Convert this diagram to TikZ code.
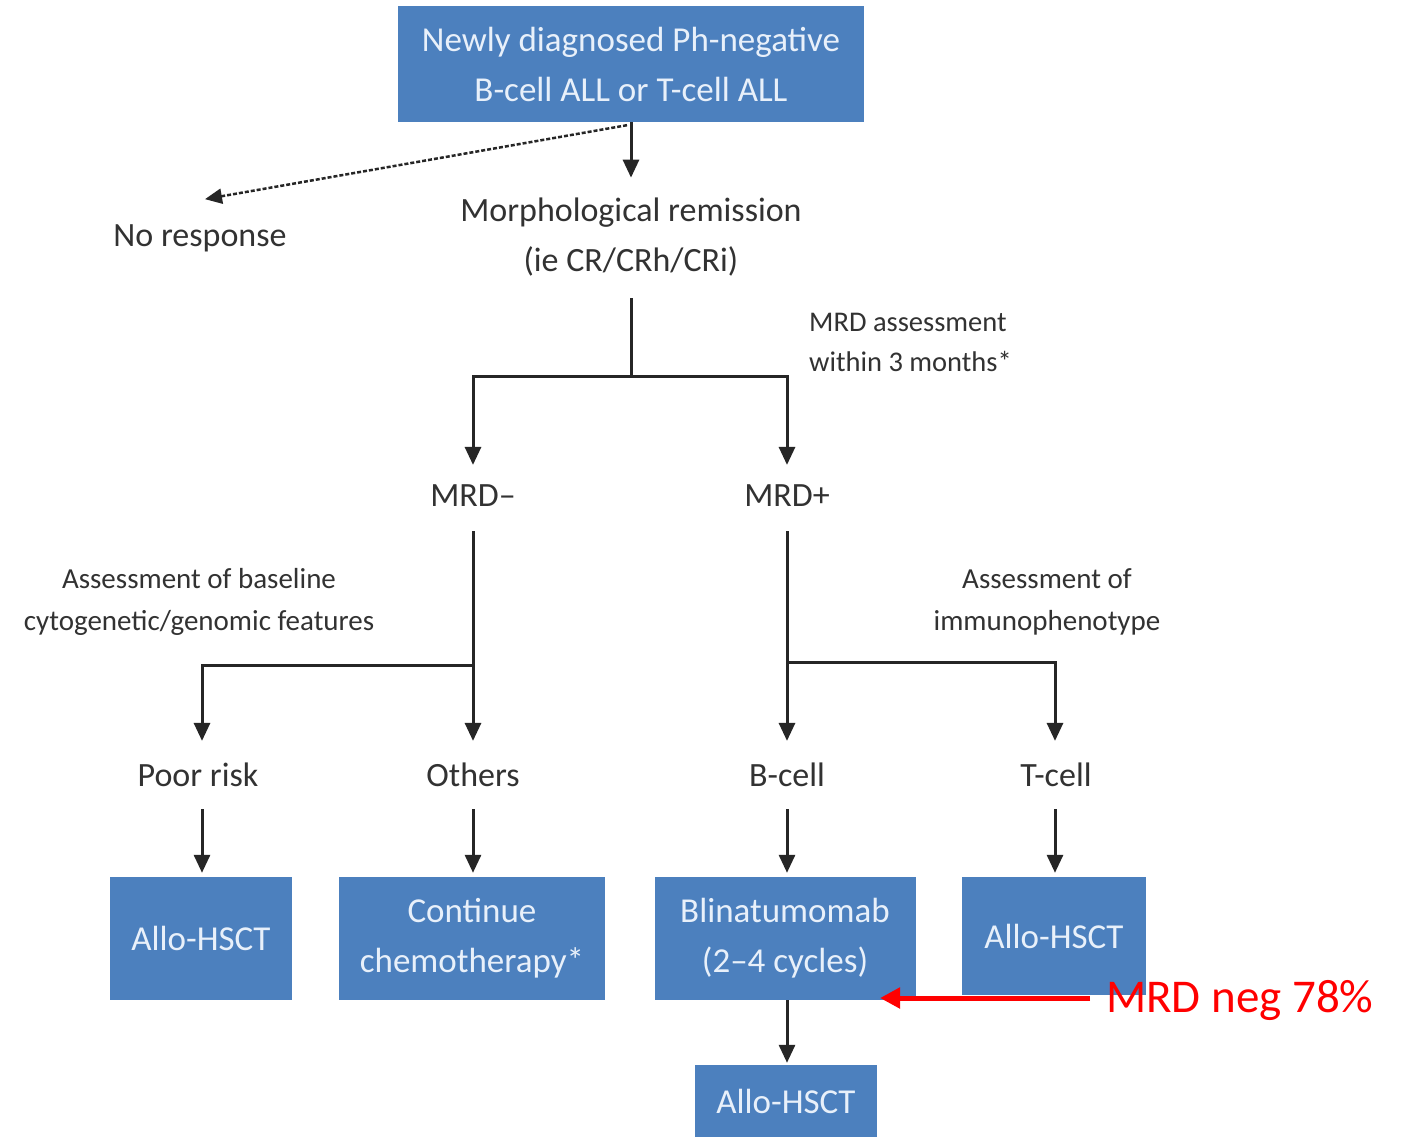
\documentclass[tikz,border=0pt]{standalone}
\usepackage{fontspec}
\setmainfont{Carlito}
\usetikzlibrary{arrows.meta,calc}
\definecolor{boxblue}{RGB}{76,128,190}
\definecolor{boxtext}{RGB}{232,240,250}
\definecolor{lblc}{RGB}{50,50,50}
\definecolor{redc}{RGB}{255,0,0}
\begin{document}
\begin{tikzpicture}[x=1pt,y=-1pt,
  bluebox/.style={fill=boxblue, text=boxtext, align=center, font=\fontsize{35}{50}\selectfont, inner sep=0pt},
  lbl/.style={text=lblc, align=center, font=\fontsize{34}{50}\selectfont, inner sep=0pt},
  small/.style={text=lblc, align=center, font=\fontsize{29}{42}\selectfont, inner sep=0pt},
  arr/.style={draw=black!85, line width=3pt, -{Triangle[width=16pt,length=18pt]}},
  ln/.style={draw=black!85, line width=3pt},
]
\useasboundingbox (0,0) rectangle (1401,1136);
\fill[white] (0,0) rectangle (1401,1136);

% boxes
\node[bluebox, minimum width=466pt, minimum height=116pt] (top) at (631,64) {Newly diagnosed Ph-negative\\B-cell ALL or T-cell ALL};
\node[bluebox, minimum width=182pt, minimum height=123pt] (allo1) at (201,938.5) {Allo-HSCT};
\node[bluebox, minimum width=266pt, minimum height=123pt] (cont) at (472,938.5) {Continue\\chemotherapy*};
\node[bluebox, minimum width=261pt, minimum height=123pt] (blin) at (785,938.5) {Blinatumomab\\(2--4 cycles)};
\node[bluebox, minimum width=184pt, minimum height=118pt] (allo2) at (1054,936) {Allo-HSCT};
\node[bluebox, minimum width=182pt, minimum height=72pt] (allo3) at (786,1101) {Allo-HSCT};

% labels
\node[lbl] (morph) at (631,237) {Morphological remission\\(ie CR/CRh/CRi)};
\node[lbl] (nores) at (200,238) {No response};
\node[lbl] (mrdneg) at (473,496) {MRD--};
\node[lbl] (mrdpos) at (787,496) {MRD+};
\node[lbl] (poor) at (198,775) {Poor risk};
\node[lbl] (others) at (473,775) {Others};
\node[lbl] (bcell) at (787,775) {B-cell};
\node[lbl] (tcell) at (1056,775) {T-cell};
\node[small, anchor=west, align=left, font=\fontsize{28.5}{40}\selectfont] (mrdass) at (809,342) {MRD assessment\\within 3 months*};
\node[small] (asscyto) at (199,602) {Assessment of baseline\\cytogenetic/genomic features};
\node[small] (assimm) at (1047,602) {Assessment of\\immunophenotype};
\node[text=redc, font=\fontsize{47}{50}\selectfont, anchor=west, inner sep=0pt] (mrd78) at (1106,1000) {MRD neg 78\%};

% connectors
\draw[arr] (top.south) -- ($(morph.north)+(0,-20)$);
\draw[draw=black!85, line width=2.5pt, dash pattern=on 4pt off 2pt, -{Triangle[width=15pt,length=17pt]}]
  ($(top.south)+(-4,3)$) -- ($(nores.north)+(5,-25)$);

\coordinate (j1) at ($(morph.south)+(0,100)$);
\draw[ln] ($(morph.south)+(0,22)$) -- (j1);
\draw[arr] (j1) -| ($(mrdneg.north)+(0,-20)$);
\draw[arr] (j1) -| ($(mrdpos.north)+(0,-20)$);

\coordinate (j2) at (473,665);
\draw[arr] ($(mrdneg.south)+(0,24)$) -- ($(others.north)+(0,-22)$);
\draw[arr] (j2) -| ($(poor.north)+(4,-22)$);

\coordinate (j3) at (787,662);
\draw[arr] ($(mrdpos.south)+(0,24)$) -- ($(bcell.north)+(0,-22)$);
\draw[arr] (j3) -| ($(tcell.north)+(-1,-22)$);

\draw[arr] ($(poor.south)+(4,22)$) -- ($(allo1.north)+(1,-4)$);
\draw[arr] ($(others.south)+(0,22)$) -- ($(others.south |- cont.north)+(0,-4)$);
\draw[arr] ($(bcell.south)+(0,22)$) -- ($(bcell.south |- blin.north)+(0,-4)$);
\draw[arr] ($(tcell.south)+(-1,22)$) -- ($(tcell.south |- allo2.north)+(-1,-4)$);
\draw[arr] (bcell.south |- blin.south) -- ($(bcell.south |- allo3.north)+(0,-2)$);

\draw[redc, line width=5pt, -{Triangle[width=20pt,length=20pt]}] ($(mrd78.west)+(-16,-2)$) -- (880,998);
\end{tikzpicture}
\end{document}
